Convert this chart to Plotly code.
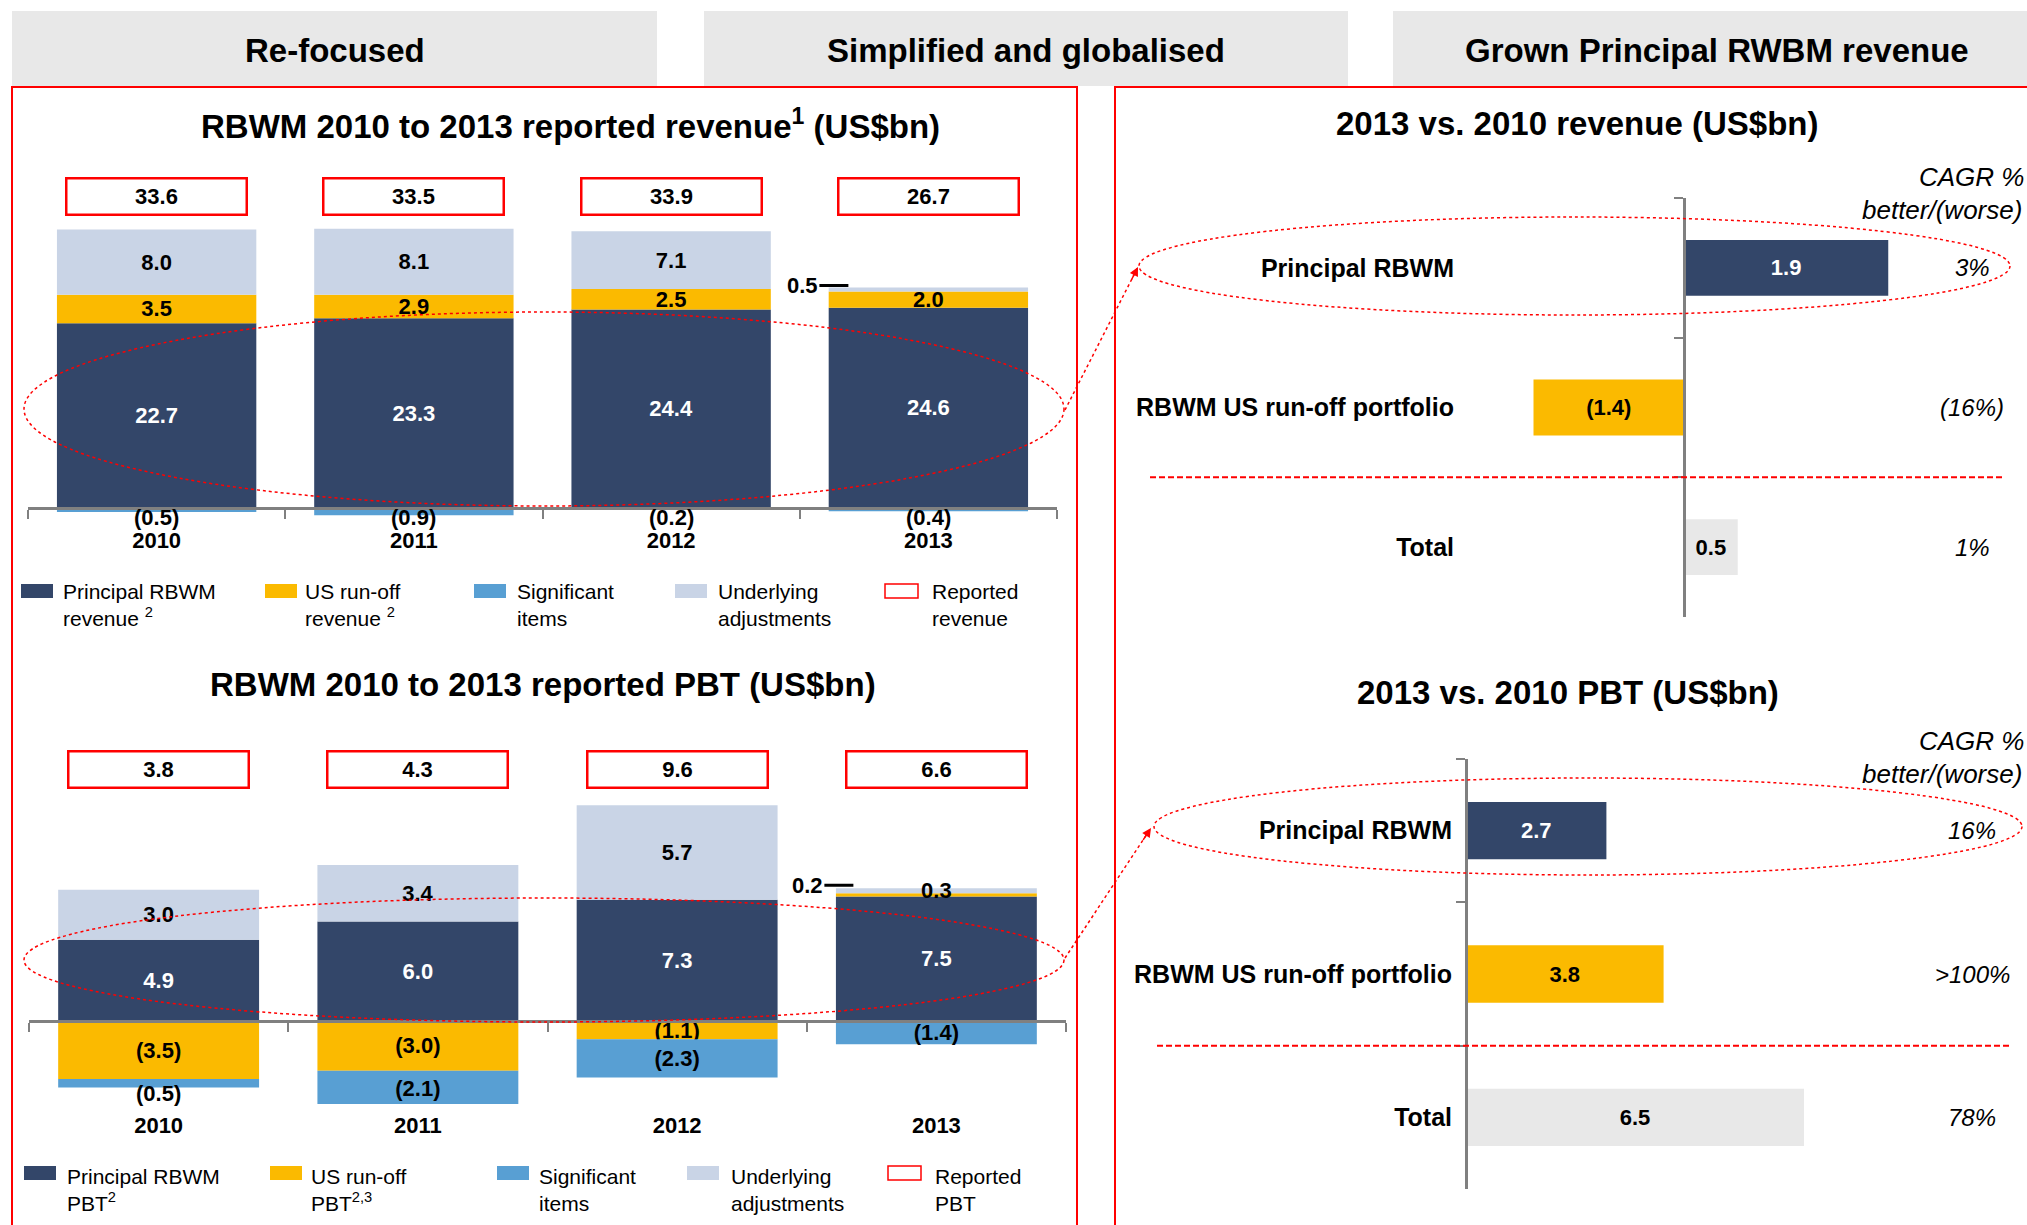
import plotly.graph_objects as go

W, H = 2027, 1225

years = ["2010", "2011", "2012", "2013"]

# RBWM reported revenue build-up (US$bn)
rev_principal = [22.7, 23.3, 24.4, 24.6]
rev_runoff = [3.5, 2.9, 2.5, 2.0]
rev_significant = [-0.5, -0.9, -0.2, -0.4]
rev_underlying = [8.0, 8.1, 7.1, 0.5]
rev_reported = [33.6, 33.5, 33.9, 26.7]

# RBWM reported PBT build-up (US$bn)
pbt_principal = [4.9, 6.0, 7.3, 7.5]
pbt_runoff = [-3.5, -3.0, -1.1, 0.2]
pbt_significant = [-0.5, -2.1, -2.3, -1.4]
pbt_underlying = [3.0, 3.4, 5.7, 0.3]
pbt_reported = [3.8, 4.3, 9.6, 6.6]

# 2013 vs. 2010
cmp_labels = ["Principal RBWM", "RBWM US run-off portfolio", "Total"]
rev_change = [1.9, -1.4, 0.5]
rev_cagr = ["3%", "(16%)", "1%"]
pbt_change = [2.7, 3.8, 6.5]
pbt_cagr = ["16%", ">100%", "78%"]

NAVY = "#334669"
AMBER = "#FBBA00"
BLUE = "#589FD3"
LIGHT = "#C9D4E6"
GREY = "#E8E8E8"
RED = "#FF0000"
AXIS = "#808080"
FONT = "Liberation Sans, Arial, sans-serif"


def px(x):
    return x / W


def py(y):
    return 1 - y / H


def fmt(v):
    return f"({abs(v):.1f})" if v < 0 else f"{v:.1f}"


fig = go.Figure()


def add_stack(xa, ya, series):
    # labels that are not written inside the bar are added as annotations below
    for vals, color, tcolor, inside in series:
        fig.add_trace(go.Bar(
            x=years, y=vals, xaxis=xa, yaxis=ya, width=0.775,
            marker=dict(color=color, line=dict(width=0)),
            text=[fmt(v) if ok else "" for v, ok in zip(vals, inside)],
            textposition="inside", insidetextanchor="middle", textangle=0,
            textfont=dict(color=tcolor, size=22, weight="bold"),
            showlegend=False, hoverinfo="skip"))


def add_compare(xa, ya, vals):
    fig.add_trace(go.Bar(
        y=cmp_labels, x=vals, orientation="h", xaxis=xa, yaxis=ya, width=0.4,
        marker=dict(color=[NAVY, AMBER, GREY], line=dict(width=0)),
        text=[fmt(v) for v in vals], textposition="inside",
        insidetextanchor="middle", textangle=0,
        textfont=dict(color=["white", "black", "black"], size=22, weight="bold"),
        showlegend=False, hoverinfo="skip"))


ALL = [True] * 4
add_stack("x", "y", [
    (rev_principal, NAVY, "white", ALL),
    (rev_runoff, AMBER, "black", ALL),
    (rev_significant, BLUE, "black", [False] * 4),
    (rev_underlying, LIGHT, "black", [True, True, True, False]),
])
add_stack("x2", "y2", [
    (pbt_principal, NAVY, "white", ALL),
    (pbt_runoff, AMBER, "black", [True, True, True, False]),
    (pbt_significant, BLUE, "black", [False, True, True, True]),
    (pbt_underlying, LIGHT, "black", ALL),
])
add_compare("x3", "y3", rev_change)
add_compare("x4", "y4", pbt_change)

# pixel geometry of each panel
z1, s1, r1 = 508, 8.14, [-2, 40]
z2, s2, r2 = 1021, 16.6, [-5, 14]
z3, s3, r3 = 1684, 107.5, [-4.5, 3.0]
z4, s4, r4 = 1466, 52.0, [-5, 10]


def vdom(z, s, r):
    return [py(z - r[0] * s), py(z - r[1] * s)]


def hdom(z, s, r):
    return [px(z + r[0] * s), px(z + r[1] * s)]


def year_axis(dom, zero, standoff):
    return dict(domain=dom, type="category", range=[-0.5, len(years) - 0.5],
                anchor="free", position=py(zero), showline=True, linecolor=AXIS,
                linewidth=3, ticks="outside", tickson="boundaries", ticklen=9,
                tickwidth=2, tickcolor=AXIS, ticklabelstandoff=standoff,
                tickfont=dict(size=22, color="black", weight="bold"),
                showgrid=False, zeroline=False, fixedrange=True)


def cat_axis(dom, zero, standoff):
    return dict(domain=dom, type="category", range=[len(cmp_labels) - 0.5, -0.5],
                anchor="free", position=px(zero), showline=True, linecolor=AXIS,
                linewidth=3, ticks="outside", tickson="boundaries", ticklen=9,
                tickwidth=2, tickcolor=AXIS, ticklabelstandoff=standoff,
                tickfont=dict(size=25, color="black", weight="bold"),
                showgrid=False, zeroline=False, fixedrange=True)


fig.update_layout(
    width=W, height=H, margin=dict(l=0, r=0, t=0, b=0),
    paper_bgcolor="white", plot_bgcolor="rgba(0,0,0,0)",
    font=dict(family=FONT, color="black"),
    barmode="relative",
    uniformtext=dict(minsize=22, mode="show"),
    xaxis=year_axis([px(28), px(1057)], z1, 12),
    yaxis=dict(domain=vdom(z1, s1, r1), range=r1, visible=False, fixedrange=True),
    xaxis2=year_axis([px(29), px(1066)], z2, 84),
    yaxis2=dict(domain=vdom(z2, s2, r2), range=r2, visible=False, fixedrange=True,
                anchor="x2"),
    xaxis3=dict(domain=hdom(z3, s3, r3), range=r3, visible=False, anchor="y3",
                fixedrange=True),
    yaxis3=cat_axis([py(617), py(198)], z3, 224),
    xaxis4=dict(domain=hdom(z4, s4, r4), range=r4, visible=False, anchor="y4",
                fixedrange=True),
    yaxis4=cat_axis([py(1189), py(759)], z4, 8),
)

shapes = []
ann = []


def note(x, y, text, size, xref="paper", yref="paper", xanchor="center", **kw):
    d = dict(xref=xref, yref=yref, x=x, y=y, text=text, showarrow=False,
             xanchor=xanchor, yanchor="middle", font=dict(size=size))
    d.update(kw)
    ann.append(d)


# section headers
for x0, x1, label in [(12, 657, "Re-focused"), (704, 1348, "Simplified and globalised"),
                      (1393, 2040, "Grown Principal RWBM revenue")]:
    shapes.append(dict(type="rect", xref="paper", yref="paper", x0=px(x0), x1=px(x1),
                       y0=py(86), y1=py(11), fillcolor=GREY, line=dict(width=0),
                       layer="below"))
    note(px((x0 + x1) / 2), py(50), f"<b>{label}</b>", 33)

# red panel frames
for x0, x1 in [(12, 1077), (1115, 2040)]:
    shapes.append(dict(type="rect", xref="paper", yref="paper", x0=px(x0), x1=px(x1),
                       y0=py(1240), y1=py(87), line=dict(color=RED, width=2)))

# titles
for x, y, t in [(570, 124, "RBWM 2010 to 2013 reported revenue<sup>1</sup> (US$bn)"),
                (543, 684, "RBWM 2010 to 2013 reported PBT (US$bn)"),
                (1577, 124, "2013 vs. 2010 revenue (US$bn)"),
                (1568, 692, "2013 vs. 2010 PBT (US$bn)")]:
    note(px(x), py(y), f"<b>{t}</b>", 33)

# reported totals boxes (category axes take category index)
for xa, yb, vals in [("x", 196, rev_reported), ("x2", 769, pbt_reported)]:
    for i, v in enumerate(vals):
        note(i, py(yb), f"<b>{fmt(v)}</b>", 22, xref=xa, bgcolor="white",
             bordercolor=RED, borderwidth=2.5, borderpad=2, width=174, height=30)

# small-segment labels
for i, v in enumerate(rev_significant):
    note(i, 0, f"<b>{fmt(v)}</b>", 22, xref="x", yref="y", yshift=-9)
neg_2010 = sum(v for v in (pbt_runoff[0], pbt_significant[0]) if v < 0)
note(0, neg_2010, f"<b>{fmt(pbt_significant[0])}</b>", 22, xref="x2", yref="y2",
     yshift=-6)
for xa, ya, y, yshift, xshift, v in [
        ("x", "y", rev_principal[3] + rev_runoff[3] + rev_underlying[3], 2, -80,
         rev_underlying[3]),
        ("x2", "y2", pbt_principal[3] + pbt_runoff[3], 8, -83, pbt_runoff[3])]:
    ann.append(dict(xref=xa, yref=ya, x=3, y=y, xshift=xshift, yshift=yshift,
                    ax=-46, ay=0, text=f"<b>{fmt(v)}</b>", showarrow=True,
                    arrowhead=0, arrowwidth=3, arrowcolor="black", standoff=0,
                    font=dict(size=22)))

# CAGR columns
for ya, top, vals in [("y3", 177, rev_cagr), ("y4", 741, pbt_cagr)]:
    note(px(2026), py(top), "<i>CAGR %</i>", 26, xanchor="right")
    note(px(2024), py(top + 33), "<i>better/(worse)</i>", 26, xanchor="right")
    for i, v in enumerate(vals):
        note(px(1972), i, f"<i>{v}</i>", 24, yref=ya)

# dashed separators above Total
for ya, x0, x1 in [("y3", 1150, 2004), ("y4", 1157, 2010)]:
    shapes.append(dict(type="line", xref="paper", yref=ya, x0=px(x0), x1=px(x1),
                       y0=len(cmp_labels) - 1.5, y1=len(cmp_labels) - 1.5,
                       line=dict(color=RED, width=2, dash="6px,3px")))

# highlight ellipses
for x0, x1, y0, y1 in [(24, 1064, 312, 506), (1139, 2010, 217, 315),
                       (24, 1064, 898, 1022), (1154, 2022, 778, 875)]:
    shapes.append(dict(type="circle", xref="paper", yref="paper", x0=px(x0), x1=px(x1),
                       y0=py(y1), y1=py(y0), line=dict(color=RED, width=1.5, dash="dot")))

# connector arrows
for (sx, sy), (tx, ty) in [((1065, 410), (1138, 267)), ((1065, 958), (1151, 828))]:
    shapes.append(dict(type="line", xref="paper", yref="paper", x0=px(sx), y0=py(sy),
                       x1=px(tx), y1=py(ty), line=dict(color=RED, width=1.5, dash="dot")))
    d = ((sx - tx) ** 2 + (sy - ty) ** 2) ** 0.5
    ann.append(dict(xref="paper", yref="paper", x=px(tx), y=py(ty), text="",
                    showarrow=True, ax=(sx - tx) / d * 16, ay=(sy - ty) / d * 16,
                    arrowhead=2, arrowsize=1.2, arrowwidth=1.5, arrowcolor=RED))

# legends
legend_colors = [NAVY, AMBER, BLUE, LIGHT, None]
rev_legend = ["Principal RBWM<br>revenue <sup>2</sup>", "US run-off<br>revenue <sup>2</sup>",
              "Significant<br>items", "Underlying<br>adjustments", "Reported<br>revenue"]
pbt_legend = ["Principal RBWM<br>PBT<sup>2</sup>", "US run-off<br>PBT<sup>2,3</sup>",
              "Significant<br>items", "Underlying<br>adjustments", "Reported<br>PBT"]
for labels, sq_x, txt_x, sq_y, txt_y in [
        (rev_legend, [21, 265, 474, 675, 885], [61, 303, 515, 716, 930], 584, 605),
        (pbt_legend, [24, 270, 497, 687, 888], [65, 309, 537, 729, 933], 1166, 1190)]:
    for lab, color, sx, tx in zip(labels, legend_colors, sq_x, txt_x):
        if color:
            shapes.append(dict(type="rect", xref="paper", yref="paper", x0=px(sx),
                               x1=px(sx + 32), y0=py(sq_y + 14), y1=py(sq_y),
                               fillcolor=color, line=dict(width=0)))
        else:
            shapes.append(dict(type="rect", xref="paper", yref="paper", x0=px(sx),
                               x1=px(sx + 33), y0=py(sq_y + 14), y1=py(sq_y),
                               fillcolor="white", line=dict(color=RED, width=1.5)))
        note(px(tx), py(txt_y), lab, 21, xanchor="left", align="left")

fig.update_layout(shapes=shapes, annotations=ann)

fig.write_html("out.html", config={"displayModeBar": False},
               post_script="document.body.style.margin='0px';")
